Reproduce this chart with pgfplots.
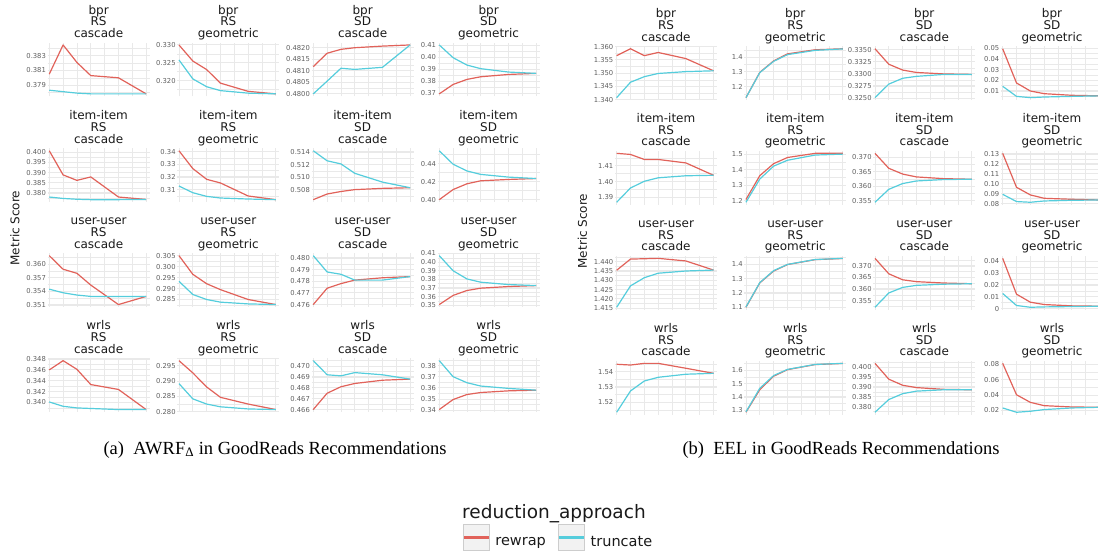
\documentclass[border=0pt]{standalone}
\usepackage{fontspec}
\setmainfont{DejaVu Sans}
\newfontfamily\capfont{Liberation Serif}
\usepackage{pgfplots}
\pgfplotsset{compat=1.18}
\definecolor{rw}{RGB}{225,98,90}
\definecolor{tr}{RGB}{85,205,220}
\definecolor{gridc}{RGB}{233,233,233}
\definecolor{ticklab}{RGB}{95,95,95}
\definecolor{titlec}{RGB}{26,26,26}
\definecolor{keyfill}{RGB}{242,242,242}
\definecolor{keyborder}{RGB}{205,205,205}
\pgfplotsset{
 prec/.style={/pgf/number format/precision=#1},
 panel/.style={
  anchor=north west, scale only axis, width=102pt, height=53.8pt,
  xmin=-0.12, xmax=7.25, enlarge y limits=0.05,
  xtick={1,3,5,7}, minor xtick={0,2,4,6}, xticklabels={},
  grid=both, major grid style={gridc, line width=1.1pt}, minor grid style={gridc, line width=0.55pt},
  axis line style={draw=none}, major tick length=0pt, minor tick length=0pt,
  tick style={draw=none}, scaled y ticks=false,
  yticklabel style={font=\fontsize{6.8}{7}\selectfont, text=ticklab, inner sep=0pt, xshift=-1.5pt},
  /pgf/number format/assume math mode=true,
  /pgf/number format/fixed, /pgf/number format/fixed zerofill,
  every axis title shift=0pt,
  title style={font=\fontsize{12}{11.7}\selectfont, text=titlec, align=center, inner sep=0pt,
    at={(0.5,1)}, anchor=south, yshift=2.3pt},
 },
 rwline/.style={rw, line width=1.2pt, line join=round},
 trline/.style={tr, line width=1.2pt, line join=round},
}
\newcommand{\panel}[6]{%
\begin{axis}[panel, at={(#1pt,-#2pt)}, title={#3\vphantom{g}}, #4]
\addplot[rwline] coordinates {#5};
\addplot[trline] coordinates {#6};
\end{axis}}
\begin{document}
\begin{tikzpicture}
\path[use as bounding box] (0pt,0pt) rectangle (1098pt,-552pt);
\clip (0pt,0pt) rectangle (1098pt,-552pt);
% ================= LEFT: AWRF =================
\panel{47.6}{42.5}{bpr\\RS\\cascade}{ytick={0.379,0.381,0.383}, minor ytick={0.378,0.380,0.382,0.384}, prec=3}
 {(0,0.3805)(1,0.3845)(2,0.3821)(3,0.3803)(5,0.3800)(7,0.3778)}
 {(0,0.3783)(1,0.3781)(2,0.3779)(3,0.3778)(5,0.3778)(7,0.3778)}
\panel{177.3}{42.5}{bpr\\RS\\geometric}{ytick={0.320,0.325,0.330}, minor ytick={0.3175,0.3225,0.3275,0.3325}, prec=3}
 {(0,0.3300)(1,0.3255)(2,0.3231)(3,0.3193)(5,0.3170)(7,0.3163)}
 {(0,0.3258)(1,0.3205)(2,0.3183)(3,0.3172)(5,0.3165)(7,0.3163)}
\panel{311.6}{42.5}{bpr\\SD\\cascade}{ytick={0.4800,0.4805,0.4810,0.4815,0.4820}, minor ytick={0.47975,0.48025,0.48075,0.48125,0.48175,0.48225}, prec=4}
 {(0,0.48118)(1,0.48176)(2,0.48193)(3,0.48200)(5,0.48207)(7,0.48212)}
 {(0,0.48000)(1,0.48055)(2,0.48111)(3,0.48106)(5,0.48115)(7,0.48212)}
\panel{437.6}{42.5}{bpr\\SD\\geometric}{ytick={0.37,0.38,0.39,0.40,0.41}, minor ytick={0.365,0.375,0.385,0.395,0.405,0.415}, prec=2}
 {(0,0.3697)(1,0.3775)(2,0.3817)(3,0.3839)(5,0.3858)(7,0.3867)}
 {(0,0.4103)(1,0.3997)(2,0.3936)(3,0.3906)(5,0.3878)(7,0.3867)}
\panel{47.6}{148.3}{item-item\\RS\\cascade}{ytick={0.380,0.385,0.390,0.395,0.400}, minor ytick={0.3775,0.3825,0.3875,0.3925,0.3975,0.4025}, prec=3}
 {(0,0.4008)(1,0.3889)(2,0.3862)(3,0.3879)(5,0.3780)(7,0.3768)}
 {(0,0.3780)(1,0.3773)(2,0.3769)(3,0.3767)(5,0.3767)(7,0.3768)}
\panel{177.3}{148.3}{item-item\\RS\\geometric}{ytick={0.31,0.32,0.33,0.34}, minor ytick={0.305,0.315,0.325,0.335,0.345}, prec=2}
 {(0,0.3408)(1,0.3267)(2,0.3182)(3,0.3153)(5,0.3050)(7,0.3021)}
 {(0,0.3129)(1,0.3076)(2,0.3047)(3,0.3034)(5,0.3026)(7,0.3021)}
\panel{311.6}{148.3}{item-item\\SD\\cascade}{ytick={0.508,0.510,0.512,0.514}, minor ytick={0.507,0.509,0.511,0.513,0.515}, prec=3}
 {(0,0.5064)(1,0.5073)(2,0.5077)(3,0.5080)(5,0.5082)(7,0.5083)}
 {(0,0.5142)(1,0.5126)(2,0.5121)(3,0.5106)(5,0.5092)(7,0.5083)}
\panel{437.6}{148.3}{item-item\\SD\\geometric}{ytick={0.40,0.42,0.44}, minor ytick={0.41,0.43,0.45}, prec=2}
 {(0,0.4000)(1,0.4112)(2,0.4176)(3,0.4209)(5,0.4224)(7,0.4234)}
 {(0,0.4542)(1,0.4393)(2,0.4318)(3,0.4280)(5,0.4250)(7,0.4234)}
\panel{47.6}{253.2}{user-user\\RS\\cascade}{ytick={0.351,0.354,0.357,0.360}, minor ytick={0.3525,0.3555,0.3585,0.3615}, prec=3}
 {(0,0.3619)(1,0.3589)(2,0.3580)(3,0.3554)(5,0.3511)(7,0.3529)}
 {(0,0.3545)(1,0.3537)(2,0.3532)(3,0.3529)(5,0.3529)(7,0.3529)}
\panel{177.3}{253.2}{user-user\\RS\\geometric}{ytick={0.285,0.290,0.295,0.300,0.305}, minor ytick={0.2825,0.2875,0.2925,0.2975,0.3025,0.3075}, prec=3}
 {(0,0.3050)(1,0.2965)(2,0.2922)(3,0.2895)(5,0.2850)(7,0.2827)}
 {(0,0.2933)(1,0.2873)(2,0.2850)(3,0.2838)(5,0.2830)(7,0.2827)}
\panel{311.6}{253.2}{user-user\\SD\\cascade}{ytick={0.476,0.477,0.478,0.479,0.480}, minor ytick={0.4755,0.4765,0.4775,0.4785,0.4795,0.4805}, prec=3}
 {(0,0.4760)(1,0.4774)(2,0.4778)(3,0.4781)(5,0.4783)(7,0.4784)}
 {(0,0.4802)(1,0.4788)(2,0.4786)(3,0.4781)(5,0.4781)(7,0.4784)}
\panel{437.6}{253.2}{user-user\\SD\\geometric}{ytick={0.35,0.36,0.37,0.38,0.39,0.40,0.41}, minor ytick={0.345,0.355,0.365,0.375,0.385,0.395,0.405,0.415}, prec=2}
 {(0,0.3508)(1,0.3614)(2,0.3671)(3,0.3698)(5,0.3717)(7,0.3728)}
 {(0,0.4075)(1,0.3900)(2,0.3805)(3,0.3767)(5,0.3740)(7,0.3728)}
\panel{47.6}{358.2}{wrls\\RS\\cascade}{ytick={0.340,0.342,0.344,0.346,0.348}, minor ytick={0.339,0.341,0.343,0.345,0.347,0.349}, prec=3}
 {(0,0.3460)(1,0.3477)(2,0.3461)(3,0.3433)(5,0.3424)(7,0.3387)}
 {(0,0.3401)(1,0.3393)(2,0.3390)(3,0.3389)(5,0.3387)(7,0.3387)}
\panel{177.3}{358.2}{wrls\\RS\\geometric}{ytick={0.280,0.285,0.290,0.295}, minor ytick={0.2775,0.2825,0.2875,0.2925,0.2975}, prec=3}
 {(0,0.2967)(1,0.2927)(2,0.2881)(3,0.2847)(5,0.2825)(7,0.2807)}
 {(0,0.2892)(1,0.2842)(2,0.2825)(3,0.2816)(5,0.2809)(7,0.2807)}
\panel{311.6}{358.2}{wrls\\SD\\cascade}{ytick={0.466,0.467,0.468,0.469,0.470}, minor ytick={0.4655,0.4665,0.4675,0.4685,0.4695,0.4705}, prec=3}
 {(0,0.4660)(1,0.4675)(2,0.4681)(3,0.4684)(5,0.4687)(7,0.4688)}
 {(0,0.4705)(1,0.4692)(2,0.4691)(3,0.4694)(5,0.4692)(7,0.4688)}
\panel{437.6}{358.2}{wrls\\SD\\geometric}{ytick={0.34,0.35,0.36,0.37,0.38}, minor ytick={0.335,0.345,0.355,0.365,0.375,0.385}, prec=2}
 {(0,0.3406)(1,0.3496)(2,0.3541)(3,0.3559)(5,0.3574)(7,0.3580)}
 {(0,0.3845)(1,0.3701)(2,0.3647)(3,0.3617)(5,0.3596)(7,0.3580)}
% ================= RIGHT: EEL =================
\panel{615}{46.3}{bpr\\RS\\cascade}{ytick={1.340,1.345,1.350,1.355,1.360}, minor ytick={1.3375,1.3425,1.3475,1.3525,1.3575,1.3625}, prec=3}
 {(0,1.3566)(1,1.3592)(2,1.3566)(3,1.3578)(5,1.3555)(7,1.3509)}
 {(0,1.3408)(1,1.3466)(2,1.3487)(3,1.3499)(5,1.3506)(7,1.3509)}
\panel{744.3}{46.3}{bpr\\RS\\geometric}{ytick={1.2,1.3,1.4}, minor ytick={1.15,1.25,1.35,1.45}, prec=1}
 {(0,1.124)(1,1.297)(2,1.375)(3,1.423)(5,1.451)(7,1.458)}
 {(0,1.124)(1,1.295)(2,1.372)(3,1.418)(5,1.447)(7,1.457)}
\panel{873.3}{46.3}{bpr\\SD\\cascade}{ytick={0.3250,0.3275,0.3300,0.3325,0.3350}, minor ytick={0.32375,0.32625,0.32875,0.33125,0.33375,0.33625}, prec=4}
 {(0,0.3352)(1,0.3320)(2,0.3308)(3,0.3303)(5,0.3300)(7,0.3299)}
 {(0,0.3251)(1,0.3279)(2,0.3291)(3,0.3295)(5,0.3299)(7,0.3299)}
\panel{1001}{46.3}{bpr\\SD\\geometric}{ytick={0.01,0.02,0.03,0.04,0.05}, minor ytick={0.005,0.015,0.025,0.035,0.045,0.055}, prec=2}
 {(0,0.0494)(1,0.0175)(2,0.0100)(3,0.0075)(5,0.0060)(7,0.0055)}
 {(0,0.0144)(1,0.0050)(2,0.0038)(3,0.0044)(5,0.0050)(7,0.0055)}
\panel{615}{150.9}{item-item\\RS\\cascade}{ytick={1.39,1.40,1.41}, minor ytick={1.385,1.395,1.405,1.415}, prec=2}
 {(0,1.4180)(1,1.4173)(2,1.4141)(3,1.4141)(5,1.4119)(7,1.4040)}
 {(0,1.3868)(1,1.3959)(2,1.4002)(3,1.4024)(5,1.4037)(7,1.4040)}
\panel{744.3}{150.9}{item-item\\RS\\geometric}{ytick={1.2,1.3,1.4,1.5}, minor ytick={1.15,1.25,1.35,1.45,1.55}, prec=1}
 {(0,1.207)(1,1.362)(2,1.440)(3,1.480)(5,1.507)(7,1.507)}
 {(0,1.189)(1,1.340)(2,1.424)(3,1.462)(5,1.496)(7,1.502)}
\panel{873.3}{150.9}{item-item\\SD\\cascade}{ytick={0.355,0.360,0.365,0.370}, minor ytick={0.3525,0.3575,0.3625,0.3675,0.3725}, prec=3}
 {(0,0.3714)(1,0.3662)(2,0.3642)(3,0.3632)(5,0.3626)(7,0.3624)}
 {(0,0.3544)(1,0.3589)(2,0.3609)(3,0.3618)(5,0.3623)(7,0.3624)}
\panel{1001}{150.9}{item-item\\SD\\geometric}{ytick={0.08,0.09,0.10,0.11,0.12,0.13}, minor ytick={0.085,0.095,0.105,0.115,0.125,0.135}, prec=2}
 {(0,0.1307)(1,0.0965)(2,0.0888)(3,0.0854)(5,0.0844)(7,0.0837)}
 {(0,0.0894)(1,0.0821)(2,0.0814)(3,0.0827)(5,0.0834)(7,0.0837)}
\panel{615}{255.9}{user-user\\RS\\cascade}{ytick={1.415,1.420,1.425,1.430,1.435,1.440}, minor ytick={1.4125,1.4175,1.4225,1.4275,1.4325,1.4375,1.4425}, prec=3}
 {(0,1.4354)(1,1.4414)(2,1.4416)(3,1.4418)(5,1.4404)(7,1.4355)}
 {(0,1.4155)(1,1.4270)(2,1.4314)(3,1.4338)(5,1.4350)(7,1.4355)}
\panel{744.3}{255.9}{user-user\\RS\\geometric}{ytick={1.1,1.2,1.3,1.4}, minor ytick={1.15,1.25,1.35,1.45}, prec=1}
 {(0,1.101)(1,1.270)(2,1.352)(3,1.397)(5,1.431)(7,1.439)}
 {(0,1.103)(1,1.272)(2,1.355)(3,1.398)(5,1.432)(7,1.440)}
\panel{873.3}{255.9}{user-user\\SD\\cascade}{ytick={0.355,0.360,0.365,0.370}, minor ytick={0.3525,0.3575,0.3625,0.3675,0.3725}, prec=3}
 {(0,0.3733)(1,0.3666)(2,0.3640)(3,0.3632)(5,0.3626)(7,0.3623)}
 {(0,0.3521)(1,0.3583)(2,0.3607)(3,0.3616)(5,0.3621)(7,0.3623)}
\panel{1001}{255.9}{user-user\\SD\\geometric}{ytick={0,0.01,0.02,0.03,0.04}, minor ytick={0.005,0.015,0.025,0.035,0.045}, prec=2, /pgf/number format/fixed zerofill=false}
 {(0,0.0426)(1,0.0122)(2,0.0054)(3,0.0034)(5,0.0023)(7,0.0020)}
 {(0,0.0128)(1,0.0026)(2,0.0011)(3,0.0014)(5,0.0017)(7,0.0020)}
\panel{615}{360.9}{wrls\\RS\\cascade}{ytick={1.52,1.53,1.54}, minor ytick={1.515,1.525,1.535,1.545}, prec=2}
 {(0,1.5448)(1,1.5443)(2,1.5454)(3,1.5454)(5,1.5422)(7,1.5389)}
 {(0,1.5135)(1,1.5274)(2,1.5339)(3,1.5363)(5,1.5383)(7,1.5389)}
\panel{744.3}{360.9}{wrls\\RS\\geometric}{ytick={1.3,1.4,1.5,1.6}, minor ytick={1.25,1.35,1.45,1.55,1.65}, prec=1}
 {(0,1.286)(1,1.455)(2,1.555)(3,1.604)(5,1.642)(7,1.650)}
 {(0,1.289)(1,1.465)(2,1.560)(3,1.606)(5,1.643)(7,1.651)}
\panel{873.3}{360.9}{wrls\\SD\\cascade}{ytick={0.380,0.385,0.390,0.395,0.400}, minor ytick={0.3775,0.3825,0.3875,0.3925,0.3975,0.4025}, prec=3}
 {(0,0.4021)(1,0.3940)(2,0.3909)(3,0.3897)(5,0.3888)(7,0.3886)}
 {(0,0.3771)(1,0.3836)(2,0.3866)(3,0.3879)(5,0.3886)(7,0.3886)}
\panel{1001}{360.9}{wrls\\SD\\geometric}{ytick={0.02,0.04,0.06,0.08}, minor ytick={0.01,0.03,0.05,0.07,0.09}, prec=2}
 {(0,0.0813)(1,0.0404)(2,0.0305)(3,0.0262)(5,0.0245)(7,0.0241)}
 {(0,0.0232)(1,0.0176)(2,0.0189)(3,0.0211)(5,0.0232)(7,0.0241)}
% ================= labels =================
\node[rotate=90, font=\fontsize{12}{12}\selectfont, text=titlec] at (15pt,-228pt) {Metric Score};
\node[rotate=90, font=\fontsize{12}{12}\selectfont, text=titlec] at (582.5pt,-231pt) {Metric Score};
\node[anchor=base, font=\capfont\fontsize{18.5}{20}\selectfont] at (275pt,-454pt) {(a)\hspace{0.5em}AWRF\textsubscript{Δ} in GoodReads Recommendations};
\node[anchor=base, font=\capfont\fontsize{18.5}{20}\selectfont] at (841pt,-454pt) {(b)\hspace{0.5em}EEL in GoodReads Recommendations};
\node[anchor=base west, inner sep=0pt, font=\fontsize{18.5}{18.5}\selectfont, text=titlec] at (462pt,-518pt) {reduction\_approach};
% legend
\begin{axis}[hide axis, scale only axis, width=10pt, height=10pt, at={(462.6pt,-551.4pt)}, anchor=south west,
 xmin=0, xmax=1, ymin=0, ymax=1, legend columns=2,
 legend style={at={(0,0)}, anchor=south west, draw=none, fill=none, inner sep=0pt, outer sep=0pt,
   font=\fontsize{14.5}{14.5}\selectfont, text=titlec,
   /tikz/column 1/.style={column sep=5pt}, /tikz/column 2/.style={column sep=12pt}, /tikz/column 3/.style={column sep=5pt},
   nodes={inner sep=0pt}},
 legend image code/.code={
   \draw[draw=keyborder, fill=keyfill, line width=1.2pt] (0pt,-9pt) rectangle (26pt,17pt);
   \draw[#1] (0.6pt,4pt) -- (25.4pt,4pt);}]
\addlegendimage{rw, line width=3pt}\addlegendentry{rewrap}
\addlegendimage{tr, line width=3pt}\addlegendentry{truncate}
\end{axis}
\end{tikzpicture}
\end{document}
